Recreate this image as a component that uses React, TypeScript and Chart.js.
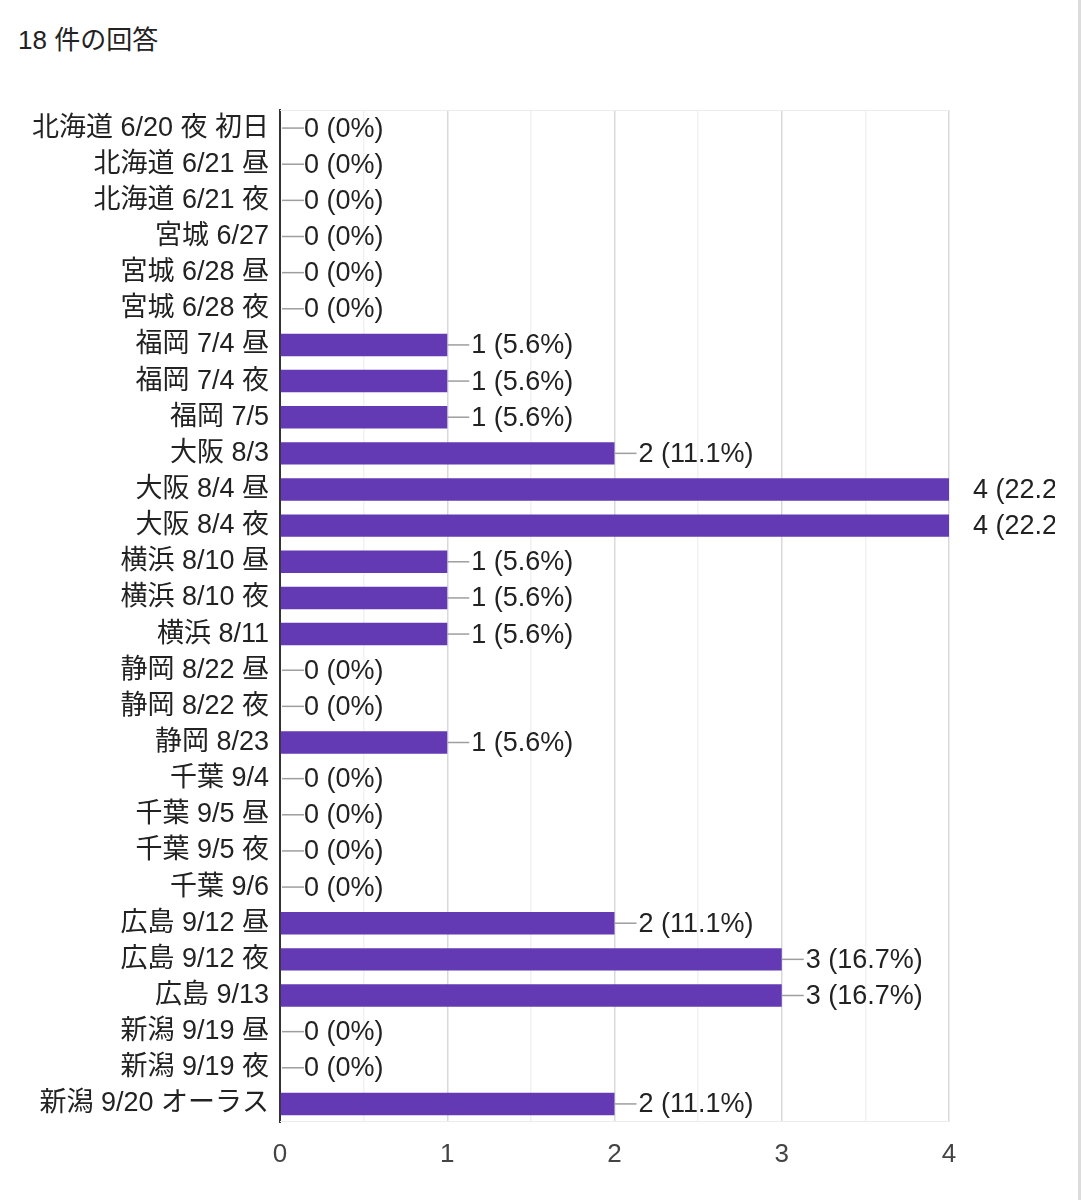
import React, { useEffect, useRef } from "react";
import { Chart, registerables } from "chart.js";

Chart.register(...registerables);

const title = "18 件の回答";
const totalResponses = 18;
const categories = [
  "北海道 6/20 夜 初日",
  "北海道 6/21 昼",
  "北海道 6/21 夜",
  "宮城 6/27",
  "宮城 6/28 昼",
  "宮城 6/28 夜",
  "福岡 7/4 昼",
  "福岡 7/4 夜",
  "福岡 7/5",
  "大阪 8/3",
  "大阪 8/4 昼",
  "大阪 8/4 夜",
  "横浜 8/10 昼",
  "横浜 8/10 夜",
  "横浜 8/11",
  "静岡 8/22 昼",
  "静岡 8/22 夜",
  "静岡 8/23",
  "千葉 9/4",
  "千葉 9/5 昼",
  "千葉 9/5 夜",
  "千葉 9/6",
  "広島 9/12 昼",
  "広島 9/12 夜",
  "広島 9/13",
  "新潟 9/19 昼",
  "新潟 9/19 夜",
  "新潟 9/20 オーラス",
];
const counts = [0, 0, 0, 0, 0, 0, 1, 1, 1, 2, 4, 4, 1, 1, 1, 0, 0, 1, 0, 0, 0, 0, 2, 3, 3, 0, 0, 2];
const xTicks = [0, 1, 2, 3, 4];

const FONT = "'Liberation Sans', 'Noto Sans CJK JP', sans-serif";

function pctLabel(v: number): string {
  if (v === 0) return "0 (0%)";
  return `${v} (${((v / totalResponses) * 100).toFixed(1)}%)`;
}

const labelPlugin = {
  id: "barLabels",
  beforeDatasetsDraw(chart: any) {
    const { ctx, chartArea } = chart;
    ctx.save();
    ctx.strokeStyle = "#ececec";
    ctx.lineWidth = 1;
    ctx.beginPath();
    ctx.moveTo(chartArea.left, chartArea.top + 0.5);
    ctx.lineTo(chartArea.right, chartArea.top + 0.5);
    ctx.moveTo(chartArea.left, chartArea.bottom - 0.5);
    ctx.lineTo(chartArea.right, chartArea.bottom - 0.5);
    ctx.stroke();
    ctx.restore();
  },
  afterDatasetsDraw(chart: any) {
    const { ctx, chartArea } = chart;
    const meta = chart.getDatasetMeta(0);
    ctx.save();
    // leader lines clipped to the plot area
    ctx.save();
    ctx.beginPath();
    ctx.rect(chartArea.left, chartArea.top, chartArea.right - chartArea.left, chartArea.bottom - chartArea.top);
    ctx.clip();
    ctx.strokeStyle = "#9e9e9e";
    ctx.lineWidth = 1.5;
    meta.data.forEach((bar: any) => {
      const x0 = Math.max(bar.x, chartArea.left + 2);
      ctx.beginPath();
      ctx.moveTo(x0, bar.y);
      ctx.lineTo(x0 + 22, bar.y);
      ctx.stroke();
    });
    ctx.restore();
    // labels, clipped at the chart's own right edge
    ctx.beginPath();
    ctx.rect(0, 0, 1055, chart.height);
    ctx.clip();
    ctx.fillStyle = "#222";
    ctx.font = `27px ${FONT}`;
    ctx.textBaseline = "middle";
    ctx.textAlign = "left";
    meta.data.forEach((bar: any, i: number) => {
      const x0 = Math.max(bar.x, chartArea.left);
      ctx.fillText(pctLabel(counts[i]), x0 + 24, bar.y + 1);
    });
    ctx.restore();
  },
};

export default function App() {
  const ref = useRef<HTMLCanvasElement>(null);
  useEffect(() => {
    if (!ref.current) return;
    const chart = new Chart(ref.current, {
      type: "bar",
      data: {
        labels: categories,
        datasets: [
          {
            data: counts,
            backgroundColor: "#6339b4",
            borderWidth: 0,
            barPercentage: 0.62,
            categoryPercentage: 1,
          },
        ],
      },
      options: {
        indexAxis: "y",
        animation: false,
        responsive: false,
        maintainAspectRatio: false,
        layout: { padding: { top: 110, right: 132, left: 0, bottom: 0 } },
        plugins: { legend: { display: false }, tooltip: { enabled: false }, title: { display: false } },
        scales: {
          x: {
            min: xTicks[0],
            max: xTicks[xTicks.length - 1],
            afterFit: (s: any) => {
              s.height = 78;
            },
            ticks: {
              stepSize: 0.5,
              padding: 17,
              color: "#444",
              font: { family: FONT, size: 26 },
              maxRotation: 0,
              autoSkip: false,
              callback: (v: any) => (xTicks.includes(Number(v)) ? String(v) : ""),
            },
            grid: {
              drawTicks: false,
              color: (c: any) => (Number.isInteger(c.tick?.value) ? "#d9d9d9" : "#f1f1f1"),
              lineWidth: 1.5,
            },
            border: { display: false },
          },
          y: {
            afterFit: (s: any) => {
              s.width = 280;
            },
            ticks: {
              padding: 11,
              color: "#222",
              font: { family: FONT, size: 27 },
              autoSkip: false,
            },
            grid: { display: false, drawTicks: false },
            border: { display: true, color: "#333", width: 2 },
          },
        },
      },
      plugins: [labelPlugin],
    } as any);
    return () => chart.destroy();
  }, []);

  return (
    <div style={{ position: "absolute", left: 0, top: 0, width: 1081, height: 1200, background: "#fff", overflow: "hidden" }}>
      <div
        style={{
          position: "absolute",
          left: 18,
          top: 25,
          fontFamily: FONT,
          fontSize: 26,
          color: "#222",
          lineHeight: "30px",
        }}
      >
        {title}
      </div>
      <canvas ref={ref} width={1081} height={1200} style={{ position: "absolute", left: 0, top: 0 }} />
      <div style={{ position: "absolute", left: 1078, top: 0, width: 3, height: 1200, background: "#dcdcdc" }} />
    </div>
  );
}
